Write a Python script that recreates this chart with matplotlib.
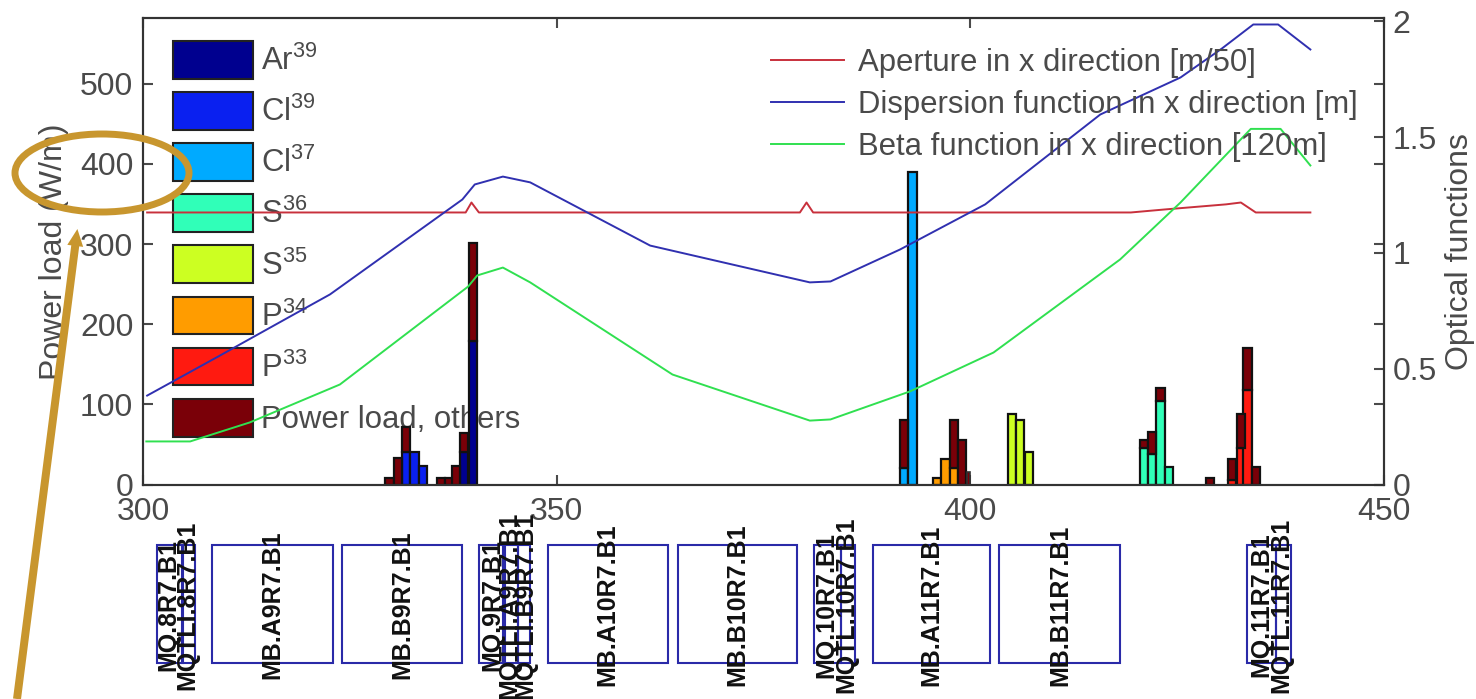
import matplotlib
matplotlib.use('Agg')
import matplotlib.pyplot as plt
from matplotlib.patches import Ellipse, Rectangle, FancyArrow, Patch

plt.rcParams['font.family'] = ['Liberation Sans', 'DejaVu Sans']
plt.rcParams['mathtext.default'] = 'regular'

W, H = 1476, 699
GREY = '#4a4a4a'

# optical functions (right axis)
aper_x = [300.5, 339.0, 339.7, 340.6, 379.4, 380.2, 381.0, 419.4, 423.5, 430.9, 432.7, 434.5, 441.1]
aper_y = [1.175, 1.175, 1.218, 1.175, 1.175, 1.218, 1.175, 1.175, 1.188, 1.21, 1.218, 1.175, 1.175]
disp_x = [300.5, 309.1, 317.8, 322.6, 338.6, 340.1, 343.5, 346.8, 361.3, 380.6, 383.1, 391.5, 401.8, 415.7, 425.4, 430.4, 434.2, 437.2, 441.1]
disp_y = [0.384, 0.553, 0.726, 0.821, 1.231, 1.296, 1.33, 1.305, 1.032, 0.873, 0.877, 1.015, 1.21, 1.598, 1.758, 1.883, 1.987, 1.987, 1.879]
beta_x = [300.4, 305.7, 312.9, 323.8, 339.3, 340.4, 343.5, 346.8, 364.0, 380.6, 383.1, 392.7, 402.8, 418.1, 425.4, 433.9, 437.5, 441.1]
beta_y = [0.186, 0.186, 0.268, 0.432, 0.855, 0.903, 0.937, 0.873, 0.475, 0.276, 0.281, 0.402, 0.57, 0.972, 1.218, 1.536, 1.536, 1.378]

# power load bins: x, species value
ar39 = ([338.8, 339.9], [40, 179])
cl39 = ([331.8, 332.8, 333.8], [40, 40, 23])
cl37 = ([392.0, 393.0], [21, 390])
s36 = ([421.0, 422.0, 423.0, 424.0], [46, 38, 104, 22])
s35 = ([405.0, 406.0, 407.1], [88, 80, 40])
p34 = ([396.0, 397.0, 398.0], [8, 32, 21])
p33 = ([431.6, 432.7, 433.5], [5, 46, 118])
# others sit on top of the species
others_x = [329.8, 330.8, 331.8, 336.0, 337.0, 337.8, 338.8, 339.9, 392.0, 398.0, 399.0, 423.0, 421.0, 422.0,
            429.0, 431.6, 432.7, 433.5, 434.5]
others_h = [8, 33, 32, 8, 8, 23, 24, 122, 59, 59, 55, 16, 9, 27, 8, 27, 42, 52, 22]
others_bottom = [0, 0, 40, 0, 0, 0, 40, 179, 21, 21, 0, 104, 46, 38, 0, 5, 46, 118, 0]
thin_x = [399.75]
thin_h = [15]

species_names = ['Ar$^{39}$', 'Cl$^{39}$', 'Cl$^{37}$', 'S$^{36}$', 'S$^{35}$', 'P$^{34}$', 'P$^{33}$', 'Power load, others']
species_colors = ['#00008f', '#0a20f0', '#00aaff', '#30ffb8', '#ccff22', '#ff9c00', '#ff1a10', '#7a0008']

# magnets: left, right, label, label centre
magnets = [
    (301.7, 304.8, 'MQ.8R7.B1', 303.1), (304.7, 306.3, 'MQTLI.8R7.B1', 305.4),
    (308.3, 323.0, 'MB.A9R7.B1', 315.6), (324.1, 338.6, 'MB.B9R7.B1', 331.3),
    (340.6, 343.5, 'MQ.9R7.B1', 342.2), (343.8, 345.3, 'MQTLI.A9R7.B1', 344.3), (345.3, 346.8, 'MQTLI.B9R7.B1', 346.2),
    (349.0, 363.4, 'MB.A10R7.B1', 356.1), (364.7, 379.1, 'MB.B10R7.B1', 371.8),
    (381.1, 384.4, 'MQ.10R7.B1', 382.6), (384.4, 386.1, 'MQTL.10R7.B1', 385.0),
    (388.2, 402.4, 'MB.A11R7.B1', 395.3), (403.5, 418.1, 'MB.B11R7.B1', 410.9),
    (433.5, 436.9, 'MQ.11R7.B1', 435.2), (436.9, 438.7, 'MQTL.11R7.B1', 437.6),
]

fig = plt.figure(figsize=(W / 100, H / 100), dpi=100)
ax = fig.add_axes([143 / W, 1 - 484.5 / H, (1384 - 143) / W, (484.5 - 18) / H])
ax2 = ax.twinx()

for (xs, hs), col in zip([ar39, cl39, cl37, s36, s35, p34, p33], species_colors):
    ax.bar(xs, hs, width=1.0, color=col, edgecolor='#111111', linewidth=1.6, zorder=2)
ax.bar(others_x, others_h, bottom=others_bottom, width=1.0, color=species_colors[7], edgecolor='#111111',
       linewidth=1.6, zorder=2)
ax.bar(thin_x, thin_h, width=0.3, color=species_colors[7], edgecolor='#333333', linewidth=1.2, zorder=2)

ax.set_xlim(300, 450)
ax.set_ylim(0, 582)
ax.set_xticks([300, 350, 400, 450])
ax.set_yticks([0, 100, 200, 300, 400, 500])
ax.set_ylabel('Power load (W/m)', fontsize=23, color=GREY, labelpad=8)
ax.tick_params(axis='y', direction='in', labelsize=23, length=7, width=1.5, colors=GREY, pad=7, right=True)
ax.tick_params(axis='x', direction='in', labelsize=23, length=7, width=1.5, colors=GREY, pad=9, top=True)

handles = [Patch(facecolor=c, edgecolor='#222222', linewidth=1.5) for c in species_colors]
leg = ax.legend(handles, species_names, loc='upper left', bbox_to_anchor=(30 / 1241, 0.951),
                frameon=False, fontsize=22.4, labelcolor=GREY, handlelength=2.58, handleheight=1.49,
                labelspacing=0.43, handletextpad=0.25, borderpad=0, borderaxespad=0)
leg.set_zorder(1)

ax2.plot(aper_x, aper_y, color='#c8303c', lw=1.4, label='Aperture in x direction [m/50]')
ax2.plot(disp_x, disp_y, color='#3030b0', lw=1.4, label='Dispersion function in x direction [m]')
ax2.plot(beta_x, beta_y, color='#30e050', lw=1.4, label='Beta function in x direction [120m]')
ax2.set_ylim(0, 2.015)
ax2.set_yticks([0, 0.5, 1, 1.5, 2])
ax2.set_yticklabels(['0', '0.5', '1', '1.5', '2'])
ax2.set_ylabel('Optical functions', fontsize=23, color=GREY, labelpad=6)
ax2.tick_params(axis='y', direction='in', labelsize=23, length=7, width=1.5, colors=GREY, pad=6)

for a in (ax, ax2):
    for s in a.spines.values():
        s.set_color('#333333')
        s.set_linewidth(1.5)

ax2.legend(loc='upper right', bbox_to_anchor=(1.0 - 26 / 1241, 0.935), frameon=False, fontsize=22.4, labelcolor=GREY,
           handlelength=2.35, handletextpad=0.46, labelspacing=0.38, borderpad=0, borderaxespad=0)

# magnet layout strip, same x scale as the main axes
mag = fig.add_axes([143 / W, 0, (1384 - 143) / W, 1 - 490 / H])
mag.set_xlim(300, 450)
mag.set_ylim(209, 0)
mag.axis('off')
for left, right, name, centre in magnets:
    mag.add_patch(Rectangle((left, 55), right - left, 118, fill=False, edgecolor='#2a2aa8', linewidth=1.5))
    mag.text(centre, 115, name, rotation=90, ha='center', va='center', fontsize=18, fontweight='bold',
             color='#111111', clip_on=False)

# gold callout drawn on top of the figure
over = fig.add_axes([0, 0, 1, 1])
over.set_xlim(0, W)
over.set_ylim(H, 0)
over.axis('off')
gold = '#c8962e'
over.add_patch(Ellipse((102, 173), 174, 78, fill=False, edgecolor=gold, linewidth=5))
over.add_patch(FancyArrow(17, 699, 60.4, -470, width=8, head_width=16, head_length=17,
                          length_includes_head=True, color=gold, linewidth=0))

fig.savefig('out.png', dpi=100)
